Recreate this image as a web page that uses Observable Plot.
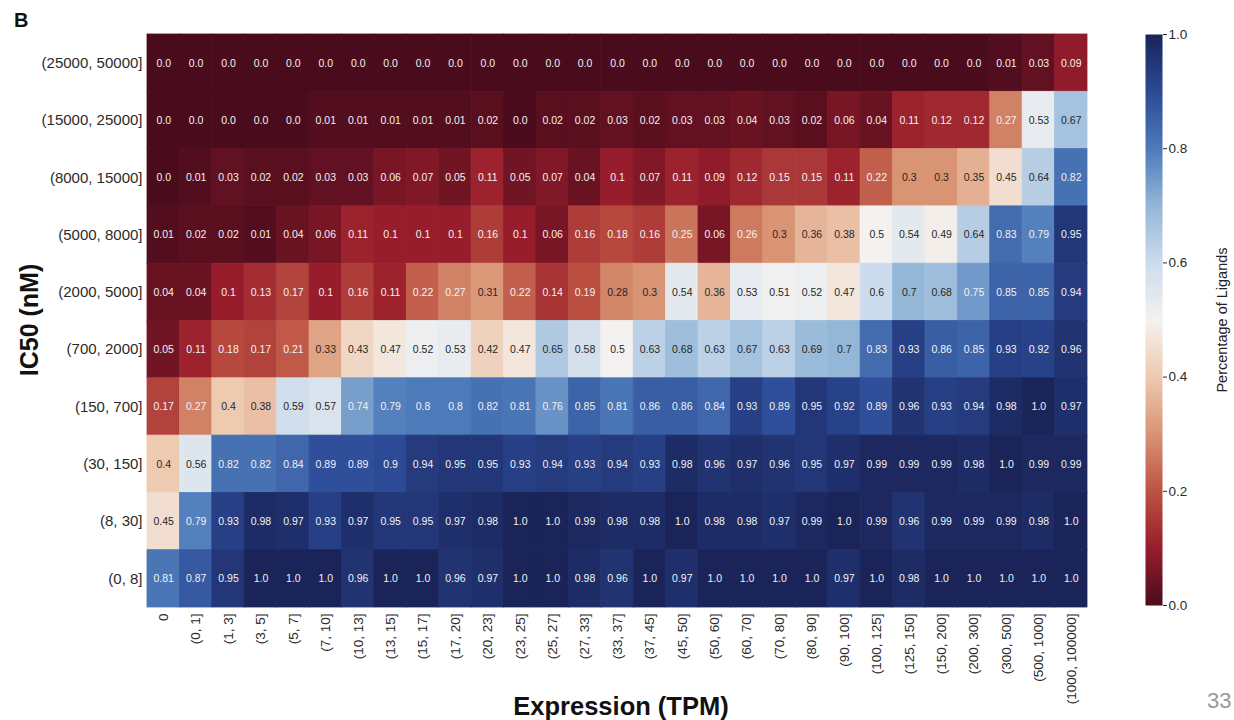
<!DOCTYPE html>
<html><head><meta charset="utf-8">
<script src="https://cdn.jsdelivr.net/npm/d3@7"></script>
<script src="https://cdn.jsdelivr.net/npm/@observablehq/plot@0.6"></script>
<style>
html,body{margin:0;padding:0;background:#fff;overflow:hidden;}
#wrap{position:relative;width:1234px;height:720px;overflow:hidden;font-family:"Liberation Sans",Arial,sans-serif;}
#wrap > *{position:absolute;}
.lbl{white-space:nowrap;color:#111;}
</style></head><body><div id="wrap"></div>
<script>
// ---- data ----
const expressionBins = ["0","(0, 1]","(1, 3]","(3, 5]","(5, 7]","(7, 10]","(10, 13]","(13, 15]","(15, 17]","(17, 20]","(20, 23]","(23, 25]","(25, 27]","(27, 33]","(33, 37]","(37, 45]","(45, 50]","(50, 60]","(60, 70]","(70, 80]","(80, 90]","(90, 100]","(100, 125]","(125, 150]","(150, 200]","(200, 300]","(300, 500]","(500, 1000]","(1000, 100000]"];
const ic50Bins = ["(25000, 50000]","(15000, 25000]","(8000, 15000]","(5000, 8000]","(2000, 5000]","(700, 2000]","(150, 700]","(30, 150]","(8, 30]","(0, 8]"];
const pct_25000_50000 = [0,0,0,0,0,0,0,0,0,0,0,0,0,0,0,0,0,0,0,0,0,0,0,0,0,0,0.01,0.03,0.09];
const pct_15000_25000 = [0,0,0,0,0,0.01,0.01,0.01,0.01,0.01,0.02,0,0.02,0.02,0.03,0.02,0.03,0.03,0.04,0.03,0.02,0.06,0.04,0.11,0.12,0.12,0.27,0.53,0.67];
const pct_8000_15000 = [0,0.01,0.03,0.02,0.02,0.03,0.03,0.06,0.07,0.05,0.11,0.05,0.07,0.04,0.1,0.07,0.11,0.09,0.12,0.15,0.15,0.11,0.22,0.3,0.3,0.35,0.45,0.64,0.82];
const pct_5000_8000 = [0.01,0.02,0.02,0.01,0.04,0.06,0.11,0.1,0.1,0.1,0.16,0.1,0.06,0.16,0.18,0.16,0.25,0.06,0.26,0.3,0.36,0.38,0.5,0.54,0.49,0.64,0.83,0.79,0.95];
const pct_2000_5000 = [0.04,0.04,0.1,0.13,0.17,0.1,0.16,0.11,0.22,0.27,0.31,0.22,0.14,0.19,0.28,0.3,0.54,0.36,0.53,0.51,0.52,0.47,0.6,0.7,0.68,0.75,0.85,0.85,0.94];
const pct_700_2000 = [0.05,0.11,0.18,0.17,0.21,0.33,0.43,0.47,0.52,0.53,0.42,0.47,0.65,0.58,0.5,0.63,0.68,0.63,0.67,0.63,0.69,0.7,0.83,0.93,0.86,0.85,0.93,0.92,0.96];
const pct_150_700 = [0.17,0.27,0.4,0.38,0.59,0.57,0.74,0.79,0.8,0.8,0.82,0.81,0.76,0.85,0.81,0.86,0.86,0.84,0.93,0.89,0.95,0.92,0.89,0.96,0.93,0.94,0.98,1.0,0.97];
const pct_30_150 = [0.4,0.56,0.82,0.82,0.84,0.89,0.89,0.9,0.94,0.95,0.95,0.93,0.94,0.93,0.94,0.93,0.98,0.96,0.97,0.96,0.95,0.97,0.99,0.99,0.99,0.98,1.0,0.99,0.99];
const pct_8_30 = [0.45,0.79,0.93,0.98,0.97,0.93,0.97,0.95,0.95,0.97,0.98,1.0,1.0,0.99,0.98,0.98,1.0,0.98,0.98,0.97,0.99,1.0,0.99,0.96,0.99,0.99,0.99,0.98,1.0];
const pct_0_8 = [0.81,0.87,0.95,1.0,1.0,1.0,0.96,1.0,1.0,0.96,0.97,1.0,1.0,0.98,0.96,1.0,0.97,1.0,1.0,1.0,1.0,0.97,1.0,0.98,1.0,1.0,1.0,1.0,1.0];
const colorbarTicks = [0, 0.2, 0.4, 0.6, 0.8, 1.0];

// ---- palette (muted RdBu) ----
const colorStops = [0,0.1,0.2,0.3,0.4,0.5,0.6,0.7,0.8,0.9,1];
const colorRange = ["#4a0c1c","#981d2c","#bd5343","#d99474","#eecab1","#f4f2f0","#cddcec","#94b7d8","#4d7bba","#2c4a96","#1a2459"];

const rows = [pct_25000_50000,pct_15000_25000,pct_8000_15000,pct_5000_8000,pct_2000_5000,pct_700_2000,pct_150_700,pct_30_150,pct_8_30,pct_0_8];
const table = [];
ic50Bins.forEach((ic, i) => rows[i].forEach((v, j) => table.push({ic50: ic, tpm: expressionBins[j], pct: v})));
const fmt = v => Number.isInteger(v) ? v.toFixed(1) : String(v);
const colorOpts = {type: "linear", domain: colorStops, range: colorRange, clamp: true};
const FONT = "Liberation Sans, Arial, sans-serif";

const wrap = document.getElementById("wrap");

const main = Plot.plot({
  width: 1234, height: 720,
  marginLeft: 147, marginRight: 147, marginTop: 34, marginBottom: 113,
  x: {domain: expressionBins, padding: 0, round: false},
  y: {domain: ic50Bins, padding: 0, round: false},
  color: colorOpts,
  style: {fontFamily: FONT, background: "transparent", color: "#2a2a2a"},
  marks: [
    Plot.cell(table, {x: "tpm", y: "ic50", fill: "pct", stroke: "pct", strokeWidth: 0.8, inset: 0}),
    Plot.text(table, {x: "tpm", y: "ic50", text: d => fmt(d.pct), fontSize: 10.5,
      fill: d => (d.pct > 0.275 && d.pct < 0.725) ? "#262626" : "#f2f2f2"}),
    Plot.axisX({tickRotate: -90, tickSize: 0, tickPadding: 6, fontSize: 13.5, label: null}),
    Plot.axisY({tickSize: 0, tickPadding: 5, fontSize: 15, label: null})
  ]
});
main.style.left = "0px"; main.style.top = "0px";
wrap.appendChild(main);

const bar = Plot.plot({
  width: 90, height: 720,
  marginLeft: 4, marginRight: 69, marginTop: 34, marginBottom: 115,
  x: {domain: [0, 1], axis: null},
  y: {domain: [0, 1]},
  color: colorOpts,
  style: {fontFamily: FONT, background: "transparent", color: "#2a2a2a"},
  marks: [
    Plot.raster({x1: 0, x2: 1, y1: 0, y2: 1, width: 2, height: 400, fill: (x, y) => y}),
    Plot.axisY({anchor: "right", ticks: colorbarTicks, tickFormat: d3.format(".1f"), tickSize: 4, tickPadding: 2, fontSize: 13.5, label: null})
  ]
});
bar.style.left = "1141px"; bar.style.top = "0px";
wrap.appendChild(bar);

function addLabel(text, css) {
  const d = document.createElement("div");
  d.className = "lbl"; d.textContent = text;
  Object.assign(d.style, css);
  wrap.appendChild(d);
  return d;
}
addLabel("B", {left: "14px", top: "9px", fontSize: "20px", fontWeight: "bold"});
addLabel("IC50 (nM)", {left: "29px", top: "320px", fontSize: "25px", fontWeight: "bold", transform: "translate(-50%,-50%) rotate(-90deg)"});
addLabel("Expression (TPM)", {left: "621px", top: "706px", fontSize: "25.5px", fontWeight: "bold", transform: "translate(-50%,-50%)"});
addLabel("Percentage of Ligands", {left: "1222px", top: "320px", fontSize: "14.5px", transform: "translate(-50%,-50%) rotate(-90deg)", color: "#222"});
addLabel("33", {left: "1207px", top: "688px", fontSize: "22px", color: "#999"});
</script></body></html>
